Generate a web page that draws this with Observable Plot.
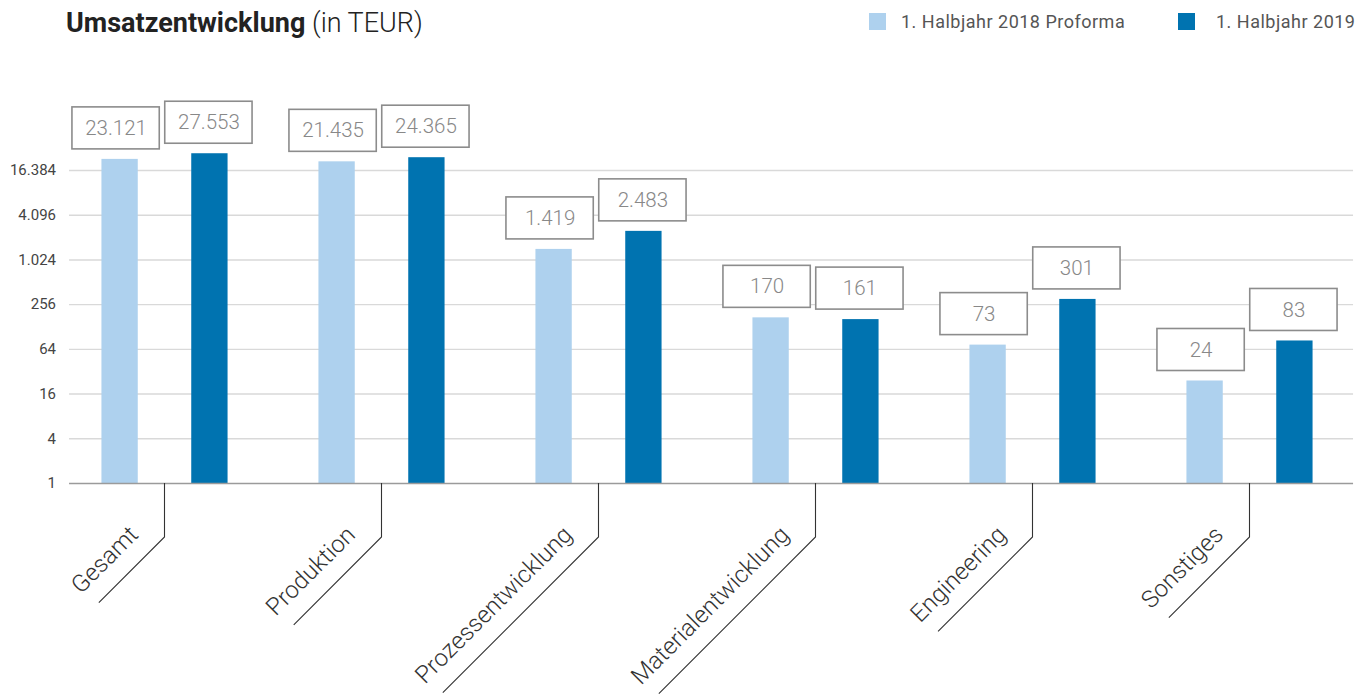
<!DOCTYPE html>
<html>
<head>
<meta charset="utf-8">
<script src="https://cdn.jsdelivr.net/npm/d3@7"></script>
<script src="https://cdn.jsdelivr.net/npm/@observablehq/plot@0.6"></script>
<style>
  html, body { margin: 0; padding: 0; background: #fff; overflow: hidden; }
  #head { position: relative; width: 1364px; height: 48px; font-family: Roboto, "Open Sans", sans-serif; }
  #title { position: absolute; left: 66px; top: 10px; font-size: 27px; line-height: 1; color: #222; white-space: nowrap; }
  #title b { font-weight: 700; }
  #title span { font-weight: 300; }
  .legsq { position: absolute; top: 13px; width: 17px; height: 17px; }
  .legtx { position: absolute; top: 13px; font-size: 18px; line-height: 1; letter-spacing: 0.5px; color: #555; white-space: nowrap; }
</style>
</head>
<body>
<div id="head">
  <div id="title"><b>Umsatzentwicklung</b> <span>(in TEUR)</span></div>
</div>
<div id="chart"></div>
<script>
// ---- data ----
const categories = ["Gesamt", "Produktion", "Prozessentwicklung", "Materialentwicklung", "Engineering", "Sonstiges"];
const series = ["1. Halbjahr 2018 Proforma", "1. Halbjahr 2019"];
const values2018 = [23121, 21435, 1419, 170, 73, 24];
const values2019 = [27553, 24365, 2483, 161, 301, 83];
const yTicks = [1, 4, 16, 64, 256, 1024, 4096, 16384];

const colors = ["#AED1EE", "#0073B0"];

// ---- legend ----
const head = document.getElementById("head");
const legSquareLeft = [869, 1178];
const legTextLeft = [901, 1216];
series.forEach((s, k) => {
  const sq = document.createElement("div");
  sq.className = "legsq";
  sq.style.left = legSquareLeft[k] + "px";
  sq.style.background = colors[k];
  head.appendChild(sq);
  const tx = document.createElement("div");
  tx.className = "legtx";
  tx.style.left = legTextLeft[k] + "px";
  tx.textContent = s;
  head.appendChild(tx);
});

// ---- layout ----
const W = 1364, H = 649;
const marginLeft = 53.75, marginRight = 4.15;
const yTop = 122, yBottom = 435;
const step = (W - marginLeft - marginRight) / categories.length;
const off = 44.9;
const barW = 37, boxW = 88, boxH = 42, gap = 10;
const bandInset = (step - barW) / 2;
const boxInset = (step - boxW) / 2;
const gridInsetLeft = 15.3, gridInsetRight = 6.8;
const labelFont = 24, labelWeight = 300;

const fmt = d3.formatLocale({decimal: ",", thousands: ".", grouping: [3], currency: ["", "€"]}).format(",d");

const rows = categories.flatMap((c, i) => [
  {category: c, series: series[0], value: values2018[i]},
  {category: c, series: series[1], value: values2019[i]}
]);

function barMarks(k, dxBar) {
  const d = rows.filter(r => r.series === series[k]);
  return [
    Plot.barY(d, {x: "category", y1: 1, y2: "value", fill: colors[k],
      insetLeft: bandInset, insetRight: bandInset, dx: dxBar})
  ];
}
function labelMarks(k, dxBox) {
  const d = rows.filter(r => r.series === series[k]);
  return [
    Plot.barY(d, {x: "category", y1: "value", y2: "value", fill: "white", stroke: "#8c8c8c", strokeWidth: 1.6,
      insetLeft: boxInset, insetRight: boxInset, insetTop: -(gap + boxH), insetBottom: gap, dx: dxBox}),
    Plot.text(d, {x: "category", y: "value", text: r => fmt(r.value), dx: dxBox, dy: -(gap + boxH / 2),
      fontSize: 20.5, fontWeight: 300, fill: "#888"})
  ];
}

// category label placement (rotated -45°, above the diagonal leader)
const vLen = 54, sEnd = 17, perp = 19;
const r2 = Math.SQRT1_2;
const lblDx = -(sEnd + perp) * r2;
const lblDy = vLen + (sEnd - perp) * r2;

const chart = Plot.plot({
  width: W,
  height: H,
  marginLeft, marginRight,
  marginTop: yTop,
  marginBottom: H - yBottom,
  style: {fontFamily: "Roboto, 'Open Sans', sans-serif", fontSize: "15px", color: "#444", background: "white"},
  x: {domain: categories, padding: 0, axis: null},
  y: {type: "log", base: 2, domain: [1, 16384], ticks: yTicks, tickFormat: fmt, tickSize: 0, tickPadding: -1.8, label: null},
  marks: [
    Plot.ruleY(yTicks.slice(1), {stroke: "#d9d9d9", strokeWidth: 1.4, insetLeft: gridInsetLeft, insetRight: gridInsetRight}),
    ...barMarks(0, -off),
    ...barMarks(1, off),
    Plot.ruleY([1], {stroke: "#9b9b9b", strokeWidth: 1.5, insetLeft: gridInsetLeft, insetRight: gridInsetRight}),
    ...labelMarks(0, -off - 4),
    ...labelMarks(1, off - 1),
    Plot.text(categories, {x: d => d, frameAnchor: "bottom", text: d => d, rotate: -45,
      textAnchor: "end", lineAnchor: "bottom", dx: lblDx, dy: lblDy,
      fontSize: labelFont, fontWeight: labelWeight, fill: "#333"})
  ]
});
document.getElementById("chart").appendChild(chart);

// leader lines under the category labels, positioned through Plot's x scale
const ctx = document.createElement("canvas").getContext("2d");
ctx.font = `${labelWeight} ${labelFont}px Roboto`;
const sx = chart.scale("x");
const g = d3.select(chart).append("g").attr("fill", "none").attr("stroke", "#333").attr("stroke-width", 1.1);
categories.forEach(c => {
  const cx = sx.apply(c) + sx.bandwidth / 2;
  const L = ctx.measureText(c).width + sEnd - 7;
  const d = L * r2;
  g.append("path").attr("d", `M${cx},${yBottom}V${yBottom + vLen}l${-d},${d}`);
});
</script>
</body>
</html>
